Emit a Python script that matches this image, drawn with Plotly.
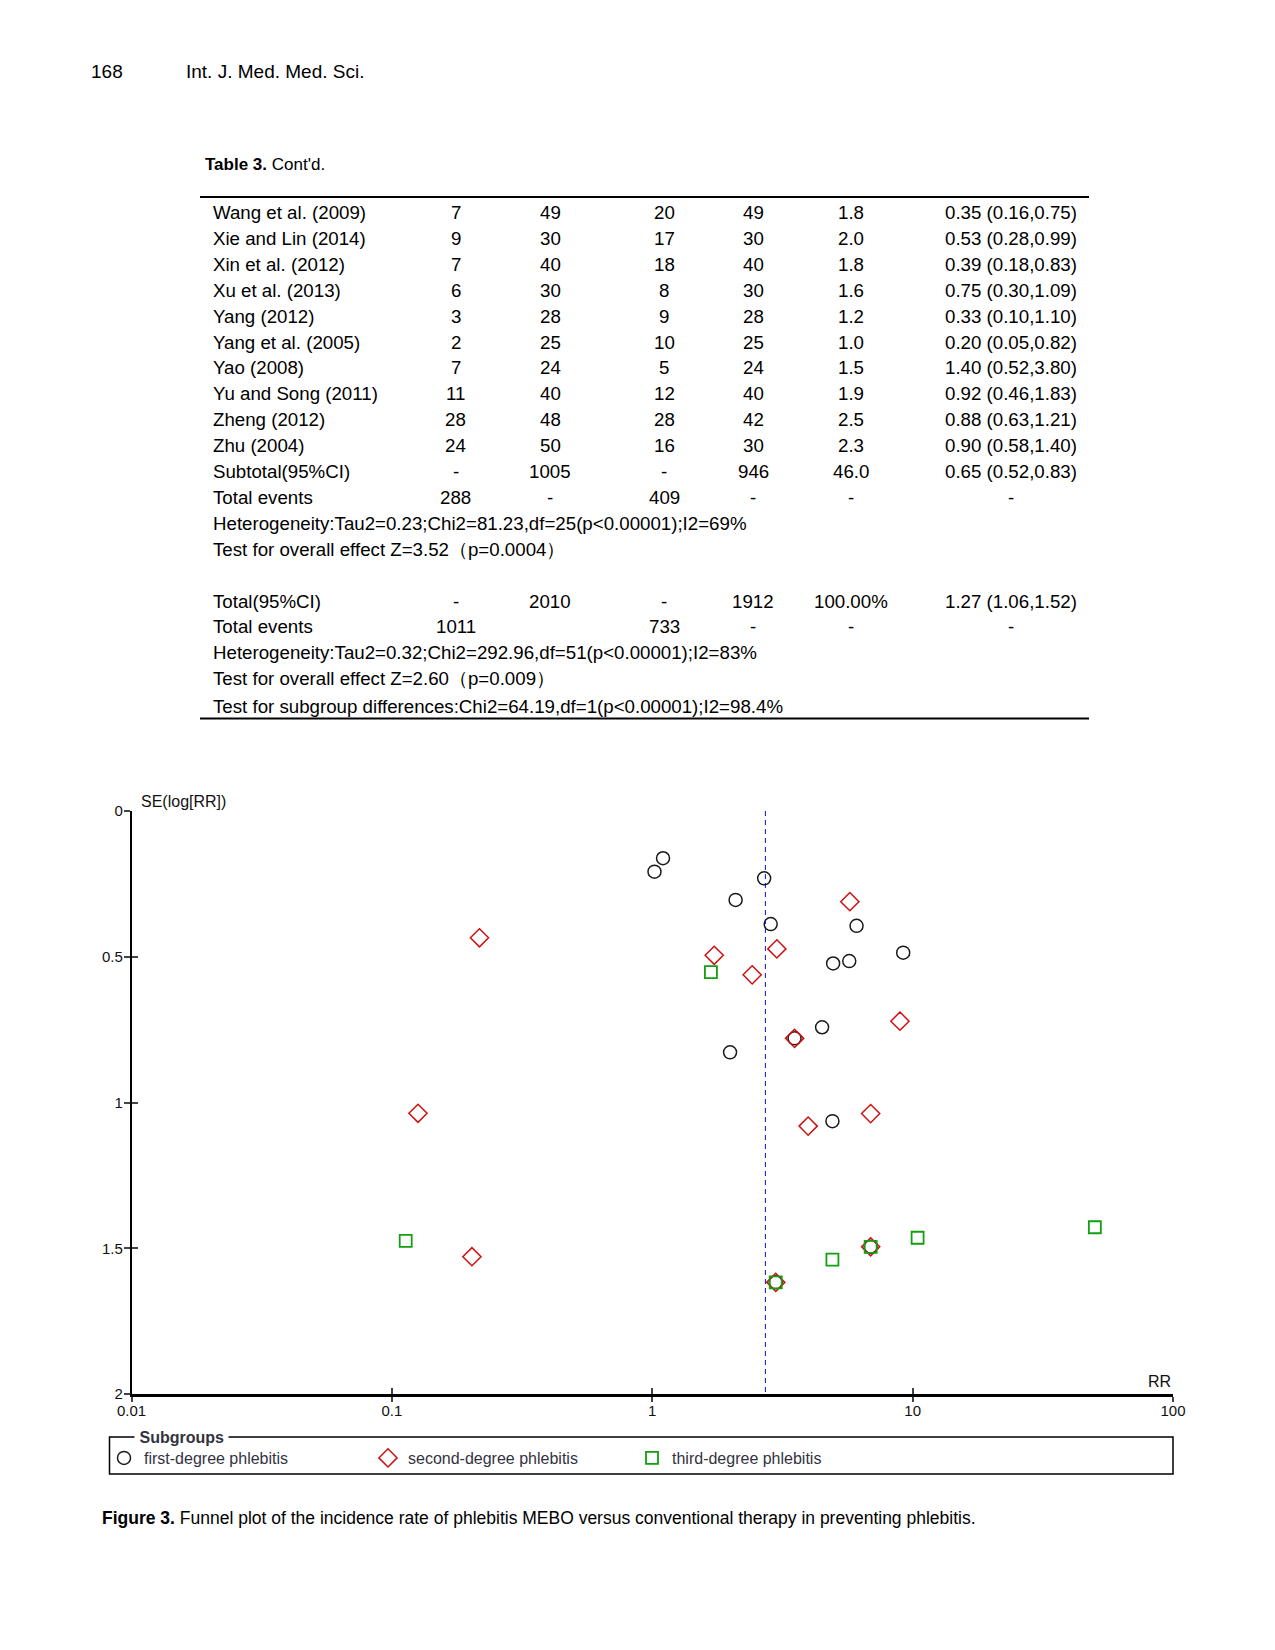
import plotly.graph_objects as go

W, H = 1275, 1650

# Table 3 (cont'd)
studies = ["Wang et al. (2009)", "Xie and Lin (2014)", "Xin et al. (2012)", "Xu et al. (2013)",
           "Yang (2012)", "Yang et al. (2005)", "Yao (2008)", "Yu and Song (2011)",
           "Zheng (2012)", "Zhu (2004)", "Subtotal(95%CI)", "Total events"]
mebo_events = ["7", "9", "7", "6", "3", "2", "7", "11", "28", "24", "-", "288"]
mebo_total = ["49", "30", "40", "30", "28", "25", "24", "40", "48", "50", "1005", "-"]
ctrl_events = ["20", "17", "18", "8", "9", "10", "5", "12", "28", "16", "-", "409"]
ctrl_total = ["49", "30", "40", "30", "28", "25", "24", "40", "42", "30", "946", "-"]
weights = ["1.8", "2.0", "1.8", "1.6", "1.2", "1.0", "1.5", "1.9", "2.5", "2.3", "46.0", "-"]
rr_ci = ["0.35 (0.16,0.75)", "0.53 (0.28,0.99)", "0.39 (0.18,0.83)", "0.75 (0.30,1.09)",
         "0.33 (0.10,1.10)", "0.20 (0.05,0.82)", "1.40 (0.52,3.80)", "0.92 (0.46,1.83)",
         "0.88 (0.63,1.21)", "0.90 (0.58,1.40)", "0.65 (0.52,0.83)", "-"]
subgroup_notes = ["Heterogeneity:Tau2=0.23;Chi2=81.23,df=25(p<0.00001);I2=69%",
                  "Test for overall effect Z=3.52\uff08p=0.0004\uff09"]
total_rows = [["Total(95%CI)", "-", "2010", "-", "1912", "100.00%", "1.27 (1.06,1.52)"],
              ["Total events", "1011", "", "733", "-", "-", "-"]]
total_notes = ["Heterogeneity:Tau2=0.32;Chi2=292.96,df=51(p<0.00001);I2=83%",
               "Test for overall effect Z=2.60\uff08p=0.009\uff09",
               "Test for subgroup differences:Chi2=64.19,df=1(p<0.00001);I2=98.4%"]

# Figure 3 funnel plot: RR and SE(log[RR]) per subgroup
first_rr = [1.10, 1.02, 2.69, 2.09, 2.85, 6.09, 9.20, 4.95, 5.71, 4.49, 1.99, 4.92, 3.52, 6.90, 2.98]
first_se = [0.162, 0.208, 0.231, 0.305, 0.388, 0.394, 0.486, 0.523, 0.515, 0.742, 0.828, 1.064, 0.780, 1.495, 1.617]
second_rr = [0.217, 5.74, 1.73, 3.01, 2.42, 8.94, 3.52, 0.126, 6.90, 3.97, 0.203, 6.90, 2.98]
second_se = [0.435, 0.311, 0.495, 0.473, 0.562, 0.721, 0.780, 1.037, 1.038, 1.081, 1.529, 1.495, 1.617]
third_rr = [1.68, 0.113, 50.1, 10.45, 4.92, 6.90, 2.98]
third_se = [0.553, 1.475, 1.428, 1.464, 1.539, 1.495, 1.617]
pooled_rr = 2.72
se_ticks = [0, 0.5, 1, 1.5, 2]
se_labels = ["0", "0.5", "1", "1.5", "2"]
rr_ticks = [0.01, 0.1, 1, 10, 100]
rr_labels = ["0.01", "0.1", "1", "10", "100"]

FONT = "Liberation Sans, Arial, sans-serif"


def px(x):
    return x / W


def py(y):
    return 1 - y / H


fig = go.Figure()

fig.add_trace(go.Scatter(x=first_rr, y=first_se, mode="markers", name="first-degree phlebitis",
                         marker=dict(symbol="circle-open", size=13, color="#1a1a1a", line=dict(width=1.5))))
fig.add_trace(go.Scatter(x=second_rr, y=second_se, mode="markers", name="second-degree phlebitis",
                         marker=dict(symbol="diamond-open", size=14, color="#d01010", line=dict(width=1.5))))
fig.add_trace(go.Scatter(x=third_rr, y=third_se, mode="markers", name="third-degree phlebitis",
                         marker=dict(symbol="square-open", size=12, color="#10a010", line=dict(width=1.8))))
# pooled estimate line (drawn on overlay axes, which also carry the inner tick marks)
fig.add_trace(go.Scatter(x=[pooled_rr, pooled_rr], y=[se_ticks[0], se_ticks[-1]], mode="lines",
                         xaxis="x2", yaxis="y2", showlegend=False, hoverinfo="skip",
                         line=dict(color="#1010c0", width=1, dash="5px,4px")))

xdom = [px(131.5), px(1173)]
ydom = [py(1394), py(811)]

fig.update_layout(
    template="none",
    width=W, height=H, autosize=False,
    margin=dict(l=0, r=0, t=0, b=0, pad=0, autoexpand=False),
    paper_bgcolor="white", plot_bgcolor="white",
    font=dict(family=FONT, color="black"),
    xaxis=dict(type="log", range=[-2, 2], domain=xdom, anchor="y", automargin=False,
               tickvals=rr_ticks, ticktext=rr_labels, ticks="outside", ticklen=5, tickwidth=2,
               ticklabelstandoff=-4,
               showline=True, linecolor="black", linewidth=2.5, showgrid=False, zeroline=False,
               tickfont=dict(size=15, color="#111")),
    yaxis=dict(range=[2, 0], domain=ydom, anchor="x", automargin=False,
               tickvals=se_ticks, ticktext=se_labels, ticks="outside",
               ticklen=6, tickwidth=1.5, ticklabelstandoff=-2,
               showline=True, linecolor="black", linewidth=1.5, showgrid=False, zeroline=False,
               tickfont=dict(size=15, color="#111")),
    xaxis2=dict(type="log", range=[-2, 2], overlaying="x", anchor="y2", side="bottom", automargin=False,
                tickvals=rr_ticks, ticks="inside", ticklen=6, tickwidth=2, showticklabels=False,
                showline=False, showgrid=False, zeroline=False),
    yaxis2=dict(range=[2, 0], overlaying="y", anchor="x2", side="left", automargin=False,
                tickvals=se_ticks, ticks="inside", ticklen=6, tickwidth=1.5, showticklabels=False,
                showline=False, showgrid=False, zeroline=False),
    legend=dict(orientation="h", x=px(104), y=py(1458), xanchor="left", yanchor="middle",
                entrywidth=219, entrywidthmode="pixels", bgcolor="rgba(0,0,0,0)", borderwidth=0,
                font=dict(size=16, color="#33333f"), traceorder="normal"),
    showlegend=True,
)

shapes = []
annotations = []


def text(x, y, s, size=18.7, anchor="left", **kw):
    annotations.append(dict(x=px(x), y=py(y), xref="paper", yref="paper", text=s, showarrow=False,
                            xanchor=anchor, yanchor="middle", font=dict(size=size, family=FONT,
                                                                        color=kw.pop("color", "black")), **kw))


# page header
text(89, 71.5, "168", size=19)
text(184, 71.5, "Int. J. Med. Med. Sci.", size=19)
text(203, 165, "<b>Table 3.</b> Cont'd.", size=17)

# table rules
for yy in (197, 718.5):
    shapes.append(dict(type="line", xref="paper", yref="paper", x0=px(200), x1=px(1089),
                       y0=py(yy), y1=py(yy), line=dict(color="black", width=2)))

col_x = [455.5, 550, 664, 753, 851, 1011]
name_x = 211
row0, row_h = 212.5, 25.9
for i, name in enumerate(studies):
    yy = row0 + i * row_h
    text(name_x, yy, name)
    vals = [mebo_events[i], mebo_total[i], ctrl_events[i], ctrl_total[i], weights[i], rr_ci[i]]
    for cx, v in zip(col_x, vals):
        text(cx, yy, v, anchor="center")
for j, note in enumerate(subgroup_notes):
    text(name_x, row0 + (len(studies) + j) * row_h, note)
for j, row in enumerate(total_rows):
    yy = row0 + (15 + j) * row_h
    text(name_x, yy, row[0])
    for cx, v in zip(col_x, row[1:]):
        text(cx, yy, v, anchor="center")
for j, note in enumerate(total_notes):
    text(name_x, row0 + (17 + j) * row_h + (2 if j == 2 else 0), note)

# axis titles
text(139, 801.5, "SE(log[RR])", size=16, color="#111")
text(1173, 1381, "RR", size=16, anchor="right", color="#111")

# legend frame with title
shapes.append(dict(type="rect", xref="paper", yref="paper", x0=px(109.5), x1=px(1173),
                   y0=py(1474), y1=py(1437), line=dict(color="black", width=1.5)))
text(134, 1437, "\u00a0<b>Subgroups</b>\u00a0", size=16, bgcolor="white", borderpad=0, color="#333340")

# caption
text(100, 1518, "<b>Figure 3.</b> Funnel plot of the incidence rate of phlebitis MEBO versus "
                "conventional therapy in preventing phlebitis.", size=17.5)

fig.update_layout(shapes=shapes, annotations=annotations)

fig.write_html("out.html", config={"displayModeBar": False},
               post_script="document.body.style.margin='0';")
